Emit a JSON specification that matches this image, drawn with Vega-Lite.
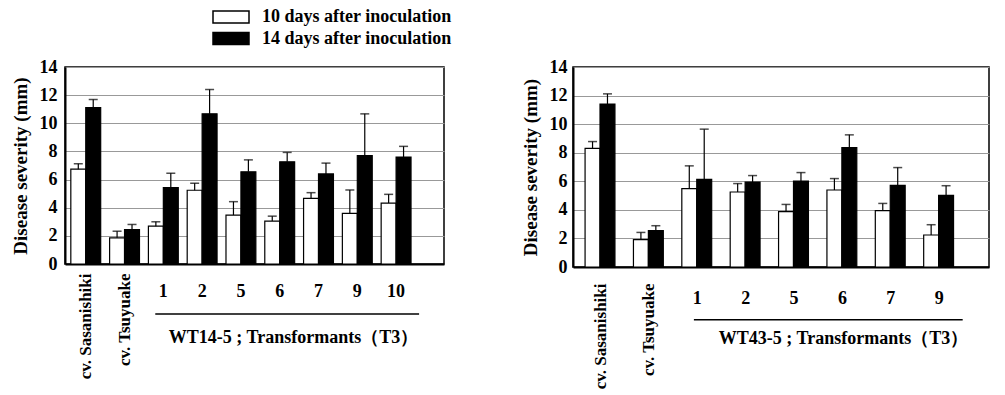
{
  "$schema": "https://vega.github.io/schema/vega-lite/v6.json",
  "padding": {"left": 10, "top": 8, "right": 5, "bottom": 0},
  "config": {
    "font": "Liberation Serif",
    "view": {"stroke": "black", "strokeWidth": 1.5},
    "axis": {
      "labelFont": "Liberation Serif", "titleFont": "Liberation Serif",
      "labelFontWeight": "bold", "titleFontWeight": "bold",
      "labelColor": "black", "titleColor": "black",
      "domainColor": "black", "domainWidth": 2
    },
    "axisY": {
      "ticks": false, "labelOverlap": false, "labelFontSize": 18, "titleFontSize": 19, "titlePadding": 9,
      "gridColor": "#999999", "gridWidth": 1
    }
  },
  "datasets": {
    "wt14": [
      {"line": "cv. Sasanishiki", "series": "10 days after inoculation", "mean": 6.74, "upper": 7.12},
      {"line": "cv. Sasanishiki", "series": "14 days after inoculation", "mean": 11.12, "upper": 11.69},
      {"line": "cv. Tsuyuake", "series": "10 days after inoculation", "mean": 1.86, "upper": 2.33},
      {"line": "cv. Tsuyuake", "series": "14 days after inoculation", "mean": 2.45, "upper": 2.81},
      {"line": "1", "series": "10 days after inoculation", "mean": 2.69, "upper": 3.0},
      {"line": "1", "series": "14 days after inoculation", "mean": 5.43, "upper": 6.45},
      {"line": "2", "series": "10 days after inoculation", "mean": 5.24, "upper": 5.74},
      {"line": "2", "series": "14 days after inoculation", "mean": 10.67, "upper": 12.4},
      {"line": "5", "series": "10 days after inoculation", "mean": 3.48, "upper": 4.43},
      {"line": "5", "series": "14 days after inoculation", "mean": 6.55, "upper": 7.4},
      {"line": "6", "series": "10 days after inoculation", "mean": 3.05, "upper": 3.4},
      {"line": "6", "series": "14 days after inoculation", "mean": 7.26, "upper": 7.93},
      {"line": "7", "series": "10 days after inoculation", "mean": 4.67, "upper": 5.07},
      {"line": "7", "series": "14 days after inoculation", "mean": 6.4, "upper": 7.17},
      {"line": "9", "series": "10 days after inoculation", "mean": 3.6, "upper": 5.26},
      {"line": "9", "series": "14 days after inoculation", "mean": 7.71, "upper": 10.67},
      {"line": "10", "series": "10 days after inoculation", "mean": 4.33, "upper": 4.95},
      {"line": "10", "series": "14 days after inoculation", "mean": 7.6, "upper": 8.36}
    ],
    "wt43": [
      {"line": "cv. Sasanishiki", "series": "10 days after inoculation", "mean": 8.31, "upper": 8.78},
      {"line": "cv. Sasanishiki", "series": "14 days after inoculation", "mean": 11.41, "upper": 12.12},
      {"line": "cv. Tsuyuake", "series": "10 days after inoculation", "mean": 1.91, "upper": 2.42},
      {"line": "cv. Tsuyuake", "series": "14 days after inoculation", "mean": 2.54, "upper": 2.89},
      {"line": "1", "series": "10 days after inoculation", "mean": 5.48, "upper": 7.08},
      {"line": "1", "series": "14 days after inoculation", "mean": 6.14, "upper": 9.65},
      {"line": "2", "series": "10 days after inoculation", "mean": 5.25, "upper": 5.84},
      {"line": "2", "series": "14 days after inoculation", "mean": 5.95, "upper": 6.4},
      {"line": "5", "series": "10 days after inoculation", "mean": 3.88, "upper": 4.38},
      {"line": "5", "series": "14 days after inoculation", "mean": 6.02, "upper": 6.61},
      {"line": "6", "series": "10 days after inoculation", "mean": 5.39, "upper": 6.19},
      {"line": "6", "series": "14 days after inoculation", "mean": 8.35, "upper": 9.25},
      {"line": "7", "series": "10 days after inoculation", "mean": 3.95, "upper": 4.45},
      {"line": "7", "series": "14 days after inoculation", "mean": 5.72, "upper": 6.96},
      {"line": "9", "series": "10 days after inoculation", "mean": 2.24, "upper": 2.96},
      {"line": "9", "series": "14 days after inoculation", "mean": 5.01, "upper": 5.69}
    ]
  },
  "spacing": 75,
  "hconcat": [
    {
      "width": 379, "height": 197,
      "data": {"name": "wt14"},
      "resolve": {"axis": {"x": "independent"}},
      "layer": [
        {
          "mark": {"type": "bar", "stroke": "black", "strokeWidth": 1.2},
          "encoding": {
            "x": {"field": "line", "type": "nominal", "sort": null,
              "scale": {"domain": ["cv. Sasanishiki", "cv. Tsuyuake", "1", "2", "5", "6", "7", "9", "10"], "paddingInner": 0.23, "paddingOuter": 0.5, "align": 0.15},
              "axis": {"orient": "bottom", "title": null, "labelAngle": 270, "ticks": false, "labelPadding": 9, "labelFontSize": 17,
                "labelExpr": "indexof(datum.label, 'cv') === 0 ? datum.label : ''"}},
            "xOffset": {"field": "series", "type": "nominal", "sort": null, "scale": {"paddingInner": 0}},
            "y": {"field": "mean", "type": "quantitative",
              "scale": {"domain": [0, 14], "nice": false},
              "axis": {"values": [0, 2, 4, 6, 8, 10, 12, 14], "title": "Disease severity (mm)", "labelPadding": 8}},
            "fill": {"field": "series", "type": "nominal",
              "scale": {"domain": ["10 days after inoculation", "14 days after inoculation"], "range": ["white", "black"]},
              "legend": {"orient": "none", "legendX": 157, "legendY": -59, "direction": "vertical", "title": null,
                "symbolType": "M-3,-1H3V1H-3Z", "symbolSize": 144, "symbolStrokeColor": "black", "symbolStrokeWidth": 1.5,
                "labelFont": "Liberation Serif", "labelFontWeight": "bold", "labelFontSize": 18, "labelColor": "black", "labelLimit": 0,
                "labelOffset": 22, "rowPadding": 3.5, "padding": 0}}
          }
        },
        {
          "mark": {"type": "rule", "color": "black", "strokeWidth": 1.2},
          "encoding": {
            "x": {"field": "line", "type": "nominal", "sort": null,
              "axis": {"orient": "bottom", "title": "WT14-5 ; Transformants（T3）", "labelAngle": 0, "ticks": false, "domain": false, "labelPadding": 18,
                "labelFontSize": 18, "titleFontSize": 18, "titlePadding": 28, "titleX": 228,
                "labelExpr": "indexof(datum.label, 'cv') === 0 ? '' : datum.label"}},
            "xOffset": {"field": "series", "type": "nominal", "sort": null},
            "y": {"field": "mean", "type": "quantitative",
              "axis": {"values": [0, 2, 4, 6, 8, 10, 12, 14], "title": "Disease severity (mm)", "labelPadding": 8}},
            "y2": {"field": "upper"}
          }
        },
        {
          "mark": {"type": "tick", "color": "black", "thickness": 1.5, "size": 9},
          "encoding": {
            "x": {"field": "line", "type": "nominal", "sort": null, "axis": null},
            "xOffset": {"field": "series", "type": "nominal", "sort": null},
            "y": {"field": "upper", "type": "quantitative",
              "axis": {"values": [0, 2, 4, 6, 8, 10, 12, 14], "title": "Disease severity (mm)", "labelPadding": 8}}
          }
        },
        {
          "data": {"values": [{"from": "1", "to": "10"}]},
          "mark": {"type": "rule", "color": "black", "strokeWidth": 1.5},
          "encoding": {
            "x": {"field": "from", "type": "nominal", "bandPosition": 0.23, "axis": null},
            "x2": {"field": "to", "bandPosition": 1.27},
            "y": {"datum": -3.55,
              "axis": {"values": [0, 2, 4, 6, 8, 10, 12, 14], "title": "Disease severity (mm)", "labelPadding": 8}}
          }
        }
      ]
    },
    {
      "width": 416, "height": 200,
      "data": {"name": "wt43"},
      "resolve": {"axis": {"x": "independent"}},
      "layer": [
        {
          "mark": {"type": "bar", "stroke": "black", "strokeWidth": 1.2},
          "encoding": {
            "x": {"field": "line", "type": "nominal", "sort": null,
              "scale": {"domain": ["cv. Sasanishiki", "cv. Tsuyuake", "1", "2", "5", "6", "7", "9"], "paddingInner": 0.36, "paddingOuter": 0.48, "align": 0.26},
              "axis": {"orient": "bottom", "title": null, "labelAngle": 270, "ticks": false, "labelPadding": 16, "labelFontSize": 17,
                "labelExpr": "indexof(datum.label, 'cv') === 0 ? datum.label : ''"}},
            "xOffset": {"field": "series", "type": "nominal", "sort": null, "scale": {"paddingInner": 0}},
            "y": {"field": "mean", "type": "quantitative",
              "scale": {"domain": [0, 14], "nice": false},
              "axis": {"values": [0, 2, 4, 6, 8, 10, 12, 14], "title": "Disease severity (mm)", "labelPadding": 6}},
            "fill": {"field": "series", "type": "nominal", "legend": null}
          }
        },
        {
          "mark": {"type": "rule", "color": "black", "strokeWidth": 1.2},
          "encoding": {
            "x": {"field": "line", "type": "nominal", "sort": null,
              "axis": {"orient": "bottom", "title": "WT43-5 ; Transformants（T3）", "labelAngle": 0, "ticks": false, "domain": false, "labelPadding": 22,
                "labelFontSize": 18, "titleFontSize": 18, "titlePadding": 22, "titleX": 270,
                "labelExpr": "indexof(datum.label, 'cv') === 0 ? '' : datum.label"}},
            "xOffset": {"field": "series", "type": "nominal", "sort": null},
            "y": {"field": "mean", "type": "quantitative",
              "axis": {"values": [0, 2, 4, 6, 8, 10, 12, 14], "title": "Disease severity (mm)", "labelPadding": 6}},
            "y2": {"field": "upper"}
          }
        },
        {
          "mark": {"type": "tick", "color": "black", "thickness": 1.5, "size": 9},
          "encoding": {
            "x": {"field": "line", "type": "nominal", "sort": null, "axis": null},
            "xOffset": {"field": "series", "type": "nominal", "sort": null},
            "y": {"field": "upper", "type": "quantitative",
              "axis": {"values": [0, 2, 4, 6, 8, 10, 12, 14], "title": "Disease severity (mm)", "labelPadding": 6}}
          }
        },
        {
          "data": {"values": [{"from": "1", "to": "9"}]},
          "mark": {"type": "rule", "color": "black", "strokeWidth": 1.5},
          "encoding": {
            "x": {"field": "from", "type": "nominal", "bandPosition": 0.39, "axis": null},
            "x2": {"field": "to", "bandPosition": 1.26},
            "y": {"datum": -3.7,
              "axis": {"values": [0, 2, 4, 6, 8, 10, 12, 14], "title": "Disease severity (mm)", "labelPadding": 6}}
          }
        }
      ]
    }
  ]
}
